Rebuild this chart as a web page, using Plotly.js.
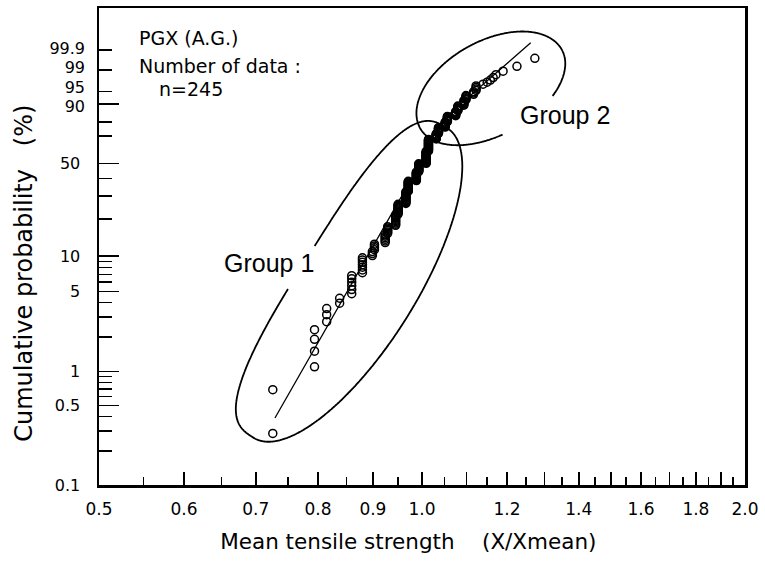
<!DOCTYPE html>
<html>
<head>
<meta charset="utf-8">
<script src="https://cdn.plot.ly/plotly-3.0.1.min.js"></script>
<style>html,body{margin:0;padding:0;background:#fff;}</style>
</head>
<body>
<div id="chart" style="width:765px;height:561px;"></div>
<script>
// ---------------- data ----------------
const sampleSize = 245;
// normalised strength (X/Xmean) of each stack of tied / near-tied specimens
const strengthLevels = [0.726, 0.794, 0.815, 0.838, 0.860, 0.880, 0.899, 0.903,
  0.924, 0.929, 0.945, 0.950, 0.966, 0.971, 0.988, 0.993, 1.009, 1.014,
  1.031, 1.036, 1.051, 1.056, 1.075, 1.080, 1.094, 1.099, 1.117, 1.123,
  1.140, 1.150, 1.158, 1.165, 1.172, 1.190, 1.226, 1.274];
// number of specimens in each stack
const countsAtLevel = [2, 4, 3, 2, 6, 7, 3, 4,
  6, 6, 10, 11, 15, 15, 14, 14, 22, 22,
  10, 11, 9, 9, 7, 7, 6, 5, 3, 4,
  1, 1, 1, 1, 1, 1, 1, 1];
// fitted (bi-linear) Weibull line: lower end, knee, upper end
const fitLineStrength = [0.7294, 1.0573, 1.2627];
const fitLineProbPct = [0.39, 84.2, 99.967];

// axis ticks
const xTickVals = [0.5,0.6,0.7,0.8,0.9,1.0,1.1,1.2,1.3,1.4,1.5,1.6,1.7,1.8,1.9,2.0];
const xTickLabels = ["0.5","0.6","0.7","0.8","0.9","1.0","","1.2","","1.4","","1.6","","1.8","","2.0"];
const xMinorVals = [0.55,0.65,0.75,0.85,0.95,1.05,1.15,1.25,1.35,1.45,1.55,1.65,1.75,1.85,1.95];
const yLongTickProbs = [0.1, 0.5, 1, 5, 10, 50, 90];
const yLongTickLabels = ["0.1","0.5","1","5","10","50",""];
const yUpperLabelProbs = [90, 95, 99, 99.9];
const yUpperLabels = ["90","95","99","99.9"];
const yUpperLabelNudgePx = [-2, 4, 3, 2];   // small vertical nudges so the crowded labels do not collide
const yMinorProbs = [0.2,0.3,0.4,0.6,0.7,0.8,0.9,2,3,4,6,7,8,9,20,30,40,70,80,95,99,99.9];

// ---------------- Weibull probability scale ----------------
function weib(pct){ const F = pct/100; return Math.log(-Math.log(1 - F)); }

// median-rank plotting positions of the ordered specimens
const ptsX = [], ptsY = [];
let rank = 0;
strengthLevels.forEach((s, k) => {
  for (let j = 0; j < countsAtLevel[k]; j++) {
    rank += 1;
    const F = (rank - 0.3) / (sampleSize + 0.4);
    ptsX.push(s);
    ptsY.push(Math.log(-Math.log(1 - F)));
  }
});

const yRange = [weib(0.1), 2.79];
const plotBox = {left:99, top:8, width:646, height:477};
const pxPerUnitY = plotBox.height / (yRange[1] - yRange[0]);

// ---------------- hand-drawn group outlines (pixel geometry) ----------------
function toPaper(X, Y){ return [(X - plotBox.left)/plotBox.width, (plotBox.top + plotBox.height - Y)/plotBox.height]; }
function loopPath(sp){
  const ang = sp.angle*Math.PI/180;
  const u = [Math.cos(ang), -Math.sin(ang)], nv = [Math.sin(ang), Math.cos(ang)];
  const N = 720, pts = [];
  for (let k = 0; k < N; k++){
    const t = 2*Math.PI*k/N, c = Math.cos(t), s = Math.sin(t);
    const side = s >= 0 ? sp.pos : sp.neg;
    const al = Math.sign(c)*Math.pow(Math.abs(c), 2/side.e);
    const pp = Math.sign(s)*Math.pow(Math.abs(s), 2/side.e)*side.b;
    const gap = ((s > 0) === (sp.gap.side > 0)) && al > sp.gap.from && al < sp.gap.to;
    pts.push({X: sp.cx + sp.a*al*u[0] + pp*nv[0], Y: sp.cy + sp.a*al*u[1] + pp*nv[1], gap: gap});
  }
  let start = pts.findIndex((p, i) => !p.gap && pts[(i - 1 + N) % N].gap);
  if (start < 0) start = 0;
  let d = '';
  for (let j = 0; j < N; j++){
    const p = pts[(start + j) % N];
    if (p.gap) break;
    const q = toPaper(p.X, p.Y);
    d += (j ? 'L' : 'M') + q[0].toFixed(4) + ',' + q[1].toFixed(4);
  }
  return d;
}
const group1Outline = {cx:350.5, cy:283, a:182.6, angle:58,
  pos:{b:66, e:2}, neg:{b:50, e:3}, gap:{side:-1, from:-0.2, to:0.064}};
const group2Outline = {cx:491, cy:89, a:81, angle:29,
  pos:{b:46, e:2}, neg:{b:48, e:2}, gap:{side:1, from:-0.146, to:0.622}};

// ---------------- traces ----------------
const traces = [
  {type:'scatter', mode:'markers', x:ptsX, y:ptsY, xaxis:'x', yaxis:'y',
   marker:{symbol:'circle-open', size:8, color:'black', line:{width:1.5, color:'black'}},
   hoverinfo:'x+y', name:'data'},
  {type:'scatter', mode:'lines', x:fitLineStrength, y:fitLineProbPct.map(weib), xaxis:'x', yaxis:'y2',
   line:{color:'black', width:1.3}, hoverinfo:'skip', name:'fit'}
];

const tickFont = {family:'DejaVu Sans', size:16, color:'black'};
const nb = '\u00a0', zw = '\u200b';

const layout = {
  width:765, height:561,
  margin:{l:99, r:20, t:8, b:76},
  paper_bgcolor:'white', plot_bgcolor:'white', showlegend:false,
  font:{family:'DejaVu Sans', color:'black', size:16},
  xaxis:{
    type:'log', range:[Math.log10(0.5), Math.log10(2.0)],
    tickmode:'array', tickvals:xTickVals, ticktext:xTickLabels,
    ticks:'inside', ticklen:13, tickwidth:1.5, tickcolor:'black',
    minor:{tickmode:'array', tickvals:xMinorVals, ticks:'inside', ticklen:8, tickwidth:1.5, tickcolor:'black', showgrid:false},
    showline:true, linewidth:2.5, linecolor:'black', mirror:true,
    showgrid:false, zeroline:false, tickfont:{family:'DejaVu Sans', size:17, color:'black'}, ticklabelstandoff:7,
    title:{text:'Mean tensile strength' + nb.repeat(4) + '(X/Xmean)' + nb.repeat(4) + zw, font:{family:'DejaVu Sans', size:21.5, color:'black'}, standoff:16}
  },
  yaxis:{
    range:yRange, tickmode:'array', tickvals:yLongTickProbs.map(weib),
    ticktext:yLongTickLabels.map((t, i) => i === 0 ? zw + nb + nb + nb + t : t),
    ticks:'inside', ticklen:20, tickwidth:1.5, tickcolor:'black',
    minor:{tickmode:'array', tickvals:yMinorProbs.map(weib), ticks:'inside', ticklen:13, tickwidth:1.5, tickcolor:'black', showgrid:false},
    showline:true, linewidth:2.5, linecolor:'black', mirror:true,
    showgrid:false, zeroline:false, tickfont:tickFont, ticklabelstandoff:13,
    title:{text:'Cumulative probability' + nb.repeat(3) + '(%)' + nb.repeat(7) + zw, font:{family:'DejaVu Sans', size:24, color:'black'}, standoff:0}
  },
  yaxis2:{
    overlaying:'y', anchor:'x', side:'left', range:yRange,
    tickmode:'array', tickvals:yUpperLabelProbs.map((p, i) => weib(p) + yUpperLabelNudgePx[i]/pxPerUnitY),
    ticktext:yUpperLabels,
    ticks:'', showline:false, showgrid:false, zeroline:false, tickfont:tickFont, ticklabelstandoff:13
  },
  shapes:[
    {type:'path', xref:'paper', yref:'paper', path:loopPath(group1Outline), line:{color:'black', width:1.8}},
    {type:'path', xref:'paper', yref:'paper', path:loopPath(group2Outline), line:{color:'black', width:1.8}}
  ],
  annotations:[
    {text:'PGX' + nb + '(A.G.)', xref:'paper', yref:'paper', x:(137-99)/646, y:(485-38)/477, xanchor:'left', yanchor:'middle', showarrow:false, font:{family:'DejaVu Sans', size:19, color:'black'}},
    {text:'Number of data :', xref:'paper', yref:'paper', x:(137-99)/646, y:(485-66)/477, xanchor:'left', yanchor:'middle', showarrow:false, font:{family:'DejaVu Sans', size:19, color:'black'}},
    {text:'n=245', xref:'paper', yref:'paper', x:(157-99)/646, y:(485-89)/477, xanchor:'left', yanchor:'middle', showarrow:false, font:{family:'DejaVu Sans', size:19, color:'black'}},
    {text:'Group 1', xref:'paper', yref:'paper', x:(222-99)/646, y:(485-263)/477, xanchor:'left', yanchor:'middle', showarrow:false, font:{family:'Liberation Sans', size:25, color:'black'}},
    {text:'Group 2', xref:'paper', yref:'paper', x:(518-99)/646, y:(485-115)/477, xanchor:'left', yanchor:'middle', showarrow:false, font:{family:'Liberation Sans', size:25, color:'black'}}
  ]
};

Plotly.newPlot('chart', traces, layout, {displayModeBar:false, staticPlot:true});
</script>
</body>
</html>
